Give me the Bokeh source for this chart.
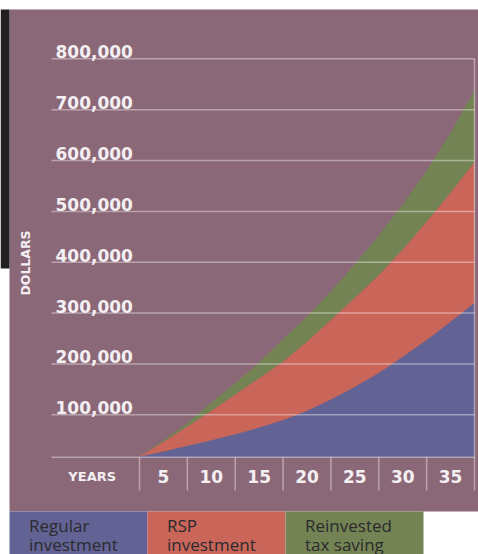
from bokeh.plotting import figure
from bokeh.models import Range1d, ColumnDataSource
from bokeh.embed import file_html
from bokeh.resources import INLINE
from bokeh.core.properties import value

# ---------------- data ----------------
years = [0, 2.5, 5, 7.5, 10, 12.5, 15, 17.5, 20, 22.5, 25, 27.5, 30, 32.5, 35]
regular_investment = [18000, 28000, 39000, 50000, 62000, 75000, 90000, 108000,
                      130000, 155000, 182000, 214000, 247000, 283000, 320000]
rsp_investment = [18000, 47000, 77000, 108000, 140000, 172000, 205000, 244000,
                  287000, 330000, 375000, 425000, 480000, 537000, 597000]
reinvested_tax_saving = [18000, 50000, 84000, 124000, 162000, 203000, 249000, 294000,
                         343000, 396000, 453000, 514000, 580000, 655000, 738000]

y_ticks = [100000, 200000, 300000, 400000, 500000, 600000, 700000, 800000]
y_tick_labels = ["100,000", "200,000", "300,000", "400,000",
                 "500,000", "600,000", "700,000", "800,000"]
year_bounds = [0, 5, 10, 15, 20, 25, 30, 35]
year_label_pos = [2.5, 7.5, 12.5, 17.5, 22.5, 27.5, 32.5]
year_labels = ["5", "10", "15", "20", "25", "30", "35"]
series_names = ["Regular investment", "RSP investment", "Reinvested tax saving"]

# ---------------- style / layout ----------------
MAUVE = "#8B6878"
DARK = "#231F20"
BLUE = "#626394"
RED = "#C96559"
GREEN = "#748353"
TXT = "#F4EFF2"
LEG_TXT = "#2B2A2E"
LINE = dict(line_color="white", line_alpha=0.4, line_width=1.5)
series_colors = [BLUE, RED, GREEN]

W, H = 478, 554
X0_PX = 139.0            # pixel x of year 0
PX_YEAR = 335.0 / 35     # pixels per year
Y0_PX = 465.16           # pixel y of value 0
PX_DOLLAR = 50.857 / 100000


def X(px):
    return (px - X0_PX) / PX_YEAR


def Y(py):
    return (Y0_PX - py) / PX_DOLLAR


BASE = Y(456.7)          # value at the baseline

p = figure(width=W, height=H,
           x_range=Range1d(X(0), X(W)), y_range=Range1d(Y(H), Y(0)),
           output_backend="svg", toolbar_location=None,
           min_border=0, min_border_left=0, min_border_right=0,
           min_border_top=0, min_border_bottom=0,
           background_fill_color="white", border_fill_color="white",
           outline_line_color=None, x_axis_location=None, y_axis_location=None)
p.xgrid.visible = False
p.ygrid.visible = False

# panel backgrounds
p.quad(left=[X(9), X(0)], right=[X(W), X(9)], top=[Y(9), Y(9)], bottom=[Y(511), Y(268)],
       fill_color=[MAUVE, DARK], line_color=None)

# stacked areas
src = ColumnDataSource(dict(year=years, regular=regular_investment,
                            rsp=rsp_investment, reinv=reinvested_tax_saving))
p.varea(x="year", y1=BASE, y2="regular", fill_color=BLUE, source=src)
p.varea(x="year", y1="regular", y2="rsp", fill_color=RED, source=src)
p.varea(x="year", y1="rsp", y2="reinv", fill_color=GREEN, source=src)

# grid lines + baseline
hl = y_ticks + [BASE]
p.segment(x0=[X(51)] * len(hl), x1=[X(474)] * len(hl), y0=hl, y1=hl, **LINE)
# year separators below the baseline
p.segment(x0=year_bounds, x1=year_bounds, y0=[BASE] * len(year_bounds),
          y1=[Y(490)] * len(year_bounds), **LINE)
# right border
p.segment(x0=[year_bounds[-1]], x1=[year_bounds[-1]], y0=[BASE], y1=[y_ticks[-1]], **LINE)

# y tick labels, sitting on the grid lines
p.text(x=[X(55)] * len(y_ticks), y=y_ticks, text=y_tick_labels,
       text_font=value("DejaVu Sans"), text_font_style="bold",
       text_font_size="17px", text_color=TXT,
       text_align="left", text_baseline="middle", y_offset=-7)

# year labels
p.text(x=year_label_pos, y=[Y(476)] * len(year_label_pos), text=year_labels,
       text_font=value("DejaVu Sans"), text_font_style="bold",
       text_font_size="17px", text_color=TXT,
       text_align="center", text_baseline="middle")

p.text(x=[X(91.7)], y=[Y(475.5)], text=["YEARS"],
       text_font=value("DejaVu Sans"), text_font_style="bold",
       text_font_size="13px", text_color=TXT,
       text_align="center", text_baseline="middle")

p.text(x=[X(25)], y=[Y(262.5)], text=["DOLLARS"], angle=1.5708,
       text_font=value("DejaVu Sans"), text_font_style="bold",
       text_font_size="12.5px", text_color=TXT,
       text_align="center", text_baseline="middle")

# legend strip
BOX_W = 138
lefts = [9 + BOX_W * i for i in range(len(series_names))]
p.quad(left=[X(l) for l in lefts], right=[X(l + BOX_W) for l in lefts],
       top=[Y(511)] * 3, bottom=[Y(H)] * 3, fill_color=series_colors, line_color=None)
line1 = [n.split(" ", 1)[0] for n in series_names]
line2 = [n.split(" ", 1)[1] for n in series_names]
for txt, mid_px in ((line1, 525.0), (line2, 543.5)):
    p.text(x=[X(l + 19.5) for l in lefts], y=[Y(mid_px)] * 3, text=txt,
           text_font=value("Open Sans"), text_font_size="17px", text_color=LEG_TXT,
           text_align="left", text_baseline="middle")

open("out.html", "w").write(file_html(p, INLINE))
